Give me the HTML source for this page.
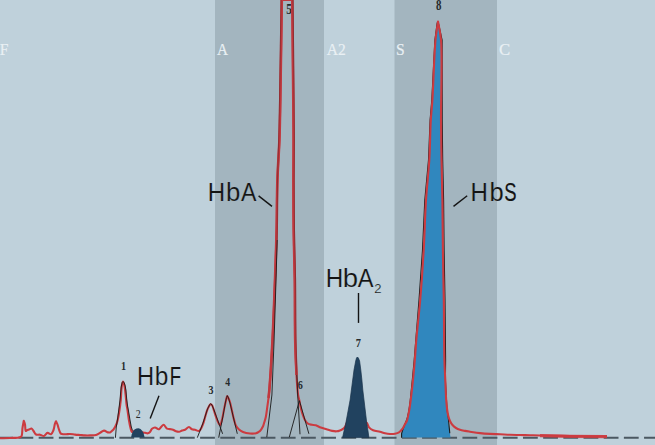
<!DOCTYPE html>
<html><head><meta charset="utf-8"><style>
html,body{margin:0;padding:0;width:655px;height:445px;overflow:hidden;background:#bfd1db;}
svg{display:block}
</style></head><body>
<svg width="655" height="445" viewBox="0 0 655 445">
<rect x="0" y="0" width="655" height="445" fill="#bfd1db"/>
<rect x="215" y="0" width="109" height="445" fill="#a3b5bf"/>
<rect x="394.5" y="0" width="102.5" height="445" fill="#a3b5bf"/>
<g font-family="Liberation Serif" font-size="17.3" fill="#e9f0f4" stroke="#e9f0f4" stroke-width="0.2">
<text transform="translate(-0.3,54.7) scale(0.9,1)">F</text>
<text transform="translate(217.1,54.7) scale(0.88,1)">A</text>
<text transform="translate(326.8,54.7) scale(0.9,1)">A2</text>
<text transform="translate(396.1,54.8) scale(0.9,1)">S</text>
<text transform="translate(499.1,54.7) scale(0.97,1)">C</text>
</g>
<line x1="-1.7" y1="437.7" x2="655" y2="437.7" stroke="#4b5862" stroke-width="2" stroke-dasharray="14.8 5.38"/>
<polygon points="401.8,437.4 401.8,433.5 402.5,431.0 403.5,428.0 405.3,424.0 407.3,420.5 408.8,414.0 409.9,408.0 411.0,400.0 413.3,380.0 415.1,360.0 416.6,340.0 420.5,300.0 424.0,250.0 426.3,200.0 429.6,160.0 431.1,120.0 432.7,100.0 435.7,40.0 438.0,21.5 440.8,40.0 440.7,120.0 441.2,160.0 442.1,200.0 442.6,250.0 443.5,300.0 444.1,360.0 444.9,380.0 445.8,400.0 446.8,410.0 448.0,420.0 449.5,430.0 450.5,437.4" fill="#3087be"/>
<polyline points="401.6,437.8 401.6,433.5 403.0,429.0 405.0,424.0 407.0,419.0 408.6,412.0 409.7,405.0 410.3,400.0 412.3,380.0 414.2,360.0 419.0,300.0 422.5,250.0 424.8,200.0 428.5,160.0 430.1,120.0 431.8,100.0 434.9,40.0 437.2,23.0 438.0,21.5" fill="none" stroke="#1a1a1a" stroke-width="1.1"/>
<polyline points="438.0,21.0 442.1,40.0 442.2,120.0 442.7,160.0 443.6,200.0 444.1,250.0 445.0,300.0 445.6,360.0 445.4,380.0 447.0,409.0 448.5,420.0 449.8,433.3" fill="none" stroke="#1a1a1a" stroke-width="1.1"/>
<g font-family="Liberation Serif" font-weight="bold" font-size="12.7" fill="#262a2c"><text transform="translate(120.96,370.1) scale(0.8,1)" font-size="12.7">1</text><text transform="translate(135.84,418) scale(0.8,1)" font-size="12.3" font-weight="normal">2</text><text transform="translate(208.55,393.6) scale(0.8,1)" font-size="12.5">3</text><text transform="translate(225.31,386) scale(0.8,1)" font-size="12.3">4</text><text transform="translate(286.37,13.5) scale(0.8,1)" font-size="14.5">5</text><text transform="translate(297.66,389) scale(0.8,1)" font-size="12.7">6</text><text transform="translate(355.77,346.5) scale(0.8,1)" font-size="13">7</text><text transform="translate(435.93,10.3) scale(0.8,1)" font-size="13.6">8</text></g>
<path d="M0.00,438.30 C3.33,438.20 6.67,438.18 10.00,438.00 C13.34,437.82 18.15,437.90 20.00,437.20 C20.83,436.89 21.19,436.71 21.60,436.00 C22.41,434.58 22.12,430.59 22.50,428.00 C22.86,425.53 23.37,423.20 23.80,420.80 C24.20,422.03 24.68,423.08 25.00,424.50 C25.41,426.35 25.13,430.69 25.80,431.00 C26.11,431.14 26.53,430.43 27.00,430.20 C27.57,429.92 28.30,429.76 29.00,429.50 C29.79,429.20 30.77,428.31 31.50,428.50 C32.29,428.71 32.81,430.09 33.50,431.00 C34.30,432.06 34.89,433.89 36.00,434.50 C37.07,435.09 38.68,434.46 40.00,434.70 C41.35,434.95 42.78,436.25 44.00,436.00 C45.29,435.73 46.26,433.13 47.50,432.90 C48.61,432.69 50.04,434.54 51.00,434.20 C52.10,433.81 52.85,431.61 53.50,430.00 C54.26,428.12 54.47,425.07 55.00,423.50 C55.32,422.55 55.67,422.03 56.00,421.30 C56.50,422.37 57.09,423.39 57.50,424.50 C57.92,425.62 58.07,426.73 58.50,428.00 C59.03,429.57 59.68,432.27 60.50,433.20 C60.95,433.71 61.35,433.82 62.00,434.00 C62.99,434.27 64.67,434.20 66.00,434.20 C67.33,434.20 68.59,433.95 70.00,434.00 C71.58,434.05 73.33,434.43 75.00,434.60 C76.67,434.77 78.33,434.87 80.00,435.00 C81.67,435.13 83.33,435.33 85.00,435.40 C86.67,435.47 88.26,435.46 90.00,435.40 C91.91,435.34 94.25,435.49 96.00,435.00 C97.52,434.57 98.67,433.63 100.00,432.90 C101.34,432.16 102.65,430.67 104.00,430.60 C105.32,430.53 106.87,432.16 108.00,432.40 C108.76,432.56 109.38,432.61 110.00,432.40 C110.66,432.17 111.22,431.48 111.80,431.00 C112.38,430.52 112.99,430.11 113.50,429.50 C114.08,428.81 114.52,427.88 115.00,427.00 C115.52,426.05 116.07,425.09 116.50,424.00 C116.98,422.78 117.35,421.42 117.70,420.00 C118.09,418.43 118.40,416.67 118.70,415.00 C119.00,413.34 119.25,411.67 119.50,410.00 C119.75,408.33 119.98,406.67 120.20,405.00 C120.42,403.33 120.65,401.67 120.80,400.00 C120.95,398.34 121.00,396.67 121.10,395.00 C121.20,393.33 121.26,391.62 121.40,390.00 C121.53,388.46 121.68,386.78 121.90,385.50 C122.07,384.54 122.27,383.71 122.50,383.00 C122.68,382.46 122.90,382.07 123.10,381.60 C123.30,382.07 123.51,382.46 123.70,383.00 C123.95,383.71 124.19,384.54 124.40,385.50 C124.68,386.77 124.90,388.46 125.10,390.00 C125.31,391.62 125.43,393.33 125.60,395.00 C125.77,396.67 125.93,398.33 126.10,400.00 C126.27,401.67 126.37,403.34 126.60,405.00 C126.83,406.67 127.19,408.04 127.50,410.00 C127.94,412.76 128.37,416.86 128.90,420.00 C129.38,422.82 129.88,425.81 130.50,428.00 C130.95,429.58 131.26,431.71 132.00,432.00 C132.54,432.21 133.22,431.13 134.00,431.00 C134.98,430.84 136.33,431.33 137.50,431.50 C138.67,431.67 139.80,431.79 141.00,432.00 C142.29,432.22 143.76,432.57 145.00,432.80 C146.07,433.00 147.13,433.48 148.00,433.30 C148.77,433.14 149.39,432.62 150.00,432.00 C150.76,431.22 151.12,429.56 152.00,428.80 C152.82,428.10 153.97,427.47 155.00,427.50 C156.13,427.54 157.58,429.33 158.50,429.30 C159.11,429.28 159.43,428.85 160.00,428.40 C160.97,427.63 162.34,424.78 163.50,424.80 C164.68,424.82 165.76,427.93 167.00,428.60 C167.95,429.12 169.00,428.92 170.00,429.10 C171.00,429.28 172.03,429.35 173.00,429.70 C174.03,430.07 174.97,430.95 176.00,431.30 C176.97,431.63 178.01,431.91 179.00,431.80 C180.02,431.69 180.99,430.95 182.00,430.60 C182.99,430.25 183.97,430.19 185.00,429.70 C186.28,429.09 187.77,426.96 189.00,427.00 C190.08,427.03 190.94,428.84 192.00,429.30 C192.95,429.71 193.94,429.55 195.00,429.80 C196.25,430.09 197.96,431.30 199.00,431.00 C199.88,430.74 200.40,429.65 201.00,428.70 C201.77,427.49 202.38,425.87 203.00,424.20 C203.74,422.21 204.34,419.74 205.00,417.50 C205.67,415.24 206.26,412.71 207.00,410.70 C207.62,409.02 208.31,407.37 209.00,406.20 C209.49,405.37 209.95,404.31 210.50,404.20 C210.96,404.11 211.55,404.55 212.00,405.10 C212.83,406.12 213.35,408.78 214.00,410.70 C214.68,412.71 215.30,414.94 216.00,416.90 C216.64,418.69 217.26,420.51 218.00,422.00 C218.62,423.25 219.39,425.36 220.00,425.30 C220.76,425.22 221.40,421.87 222.00,419.70 C222.79,416.85 223.31,412.87 224.00,409.60 C224.65,406.51 225.37,403.09 226.00,400.60 C226.45,398.80 226.72,396.04 227.30,396.00 C227.99,395.96 229.25,399.99 230.00,402.30 C230.86,404.93 231.33,408.11 232.00,411.00 C232.66,413.88 233.27,416.98 234.00,419.60 C234.62,421.85 235.06,424.07 236.00,425.80 C236.80,427.28 237.83,428.47 239.00,429.50 C240.16,430.53 241.42,431.36 243.00,432.00 C244.95,432.79 247.74,433.32 250.00,433.50 C252.07,433.67 254.48,433.57 256.00,433.20 C257.01,432.95 257.70,432.50 258.40,432.10 C259.00,431.76 259.45,431.57 260.00,431.00 C260.92,430.06 262.21,427.91 262.90,426.50 C263.44,425.38 263.61,424.53 264.00,423.30 C264.52,421.66 265.20,419.77 265.70,417.50 C266.39,414.37 266.91,409.67 267.40,406.20 C267.82,403.25 268.16,400.87 268.50,398.00 C268.87,394.83 269.13,392.58 269.50,388.00 C270.31,377.98 271.62,356.90 272.50,340.00 C273.48,321.12 274.30,299.09 275.00,280.00 C275.64,262.58 276.20,246.67 276.60,230.00 C277.00,213.33 276.88,195.73 277.40,180.00 C277.86,165.92 278.92,153.34 279.40,140.00 C279.88,126.67 279.99,116.35 280.30,100.00 C280.78,74.10 281.30,33.07 281.80,-0.40 C285.30,-0.40 288.80,-0.40 292.30,-0.40 C292.63,33.07 293.07,74.10 293.30,100.00 C293.44,116.35 293.58,126.67 293.60,140.00 C293.62,153.33 293.39,165.92 293.40,180.00 C293.41,195.74 293.47,213.33 293.70,230.00 C293.93,246.67 294.55,262.57 294.80,280.00 C295.07,299.09 294.82,322.68 295.20,340.00 C295.49,353.23 295.91,364.96 296.50,375.00 C296.94,382.60 297.39,390.40 298.10,395.00 C298.48,397.46 298.97,398.73 299.40,400.60 C300.00,403.60 300.54,406.97 301.20,409.60 C301.73,411.70 302.24,413.39 302.90,415.20 C303.54,416.96 304.20,418.83 305.10,420.30 C305.90,421.61 306.74,422.95 307.90,423.70 C309.02,424.43 310.57,424.53 311.90,424.80 C313.20,425.06 314.45,424.91 315.80,425.30 C317.40,425.76 319.05,426.94 320.80,427.60 C322.61,428.28 324.61,428.75 326.50,429.30 C328.37,429.85 330.32,430.57 332.10,430.90 C333.67,431.19 335.21,431.42 336.60,431.30 C337.82,431.20 338.93,430.82 340.00,430.40 C341.06,429.98 342.14,429.44 343.00,428.80 C343.78,428.22 344.44,427.61 345.00,426.80 C345.64,425.88 345.75,425.09 346.50,423.50 C348.50,419.22 354.57,399.82 357.80,400.00 C360.85,400.17 363.57,419.28 365.50,422.00 C366.05,422.78 366.53,422.61 367.00,423.20 C367.73,424.11 368.03,426.14 369.00,427.30 C370.03,428.53 371.47,429.56 373.10,430.30 C375.03,431.17 377.89,431.26 380.00,431.80 C381.81,432.27 383.32,432.93 385.00,433.30 C386.65,433.66 388.33,433.93 390.00,434.00 C391.66,434.07 393.44,433.99 395.00,433.70 C396.43,433.43 397.95,433.03 399.00,432.40 C399.85,431.89 400.36,431.20 401.00,430.50 C401.69,429.74 402.38,428.96 403.00,428.00 C403.73,426.88 404.32,425.37 405.00,424.10 C405.66,422.87 406.45,421.92 407.00,420.50 C407.70,418.69 408.06,416.13 408.50,414.00 C408.92,411.96 409.26,410.15 409.60,408.00 C410.00,405.53 410.29,403.27 410.70,400.00 C411.35,394.84 412.32,386.67 413.00,380.00 C413.68,373.34 414.25,366.67 414.80,360.00 C415.35,353.34 415.63,347.81 416.30,340.00 C417.25,328.95 419.02,314.08 420.20,300.00 C421.52,284.27 422.73,266.67 423.70,250.00 C424.67,233.34 424.99,215.73 426.00,200.00 C426.90,185.91 428.50,173.34 429.30,160.00 C430.10,146.68 430.15,131.04 430.80,120.00 C431.26,112.18 431.84,108.46 432.40,100.00 C433.36,85.36 434.17,54.26 435.50,40.00 C436.24,32.05 437.17,27.67 438.00,21.50 C439.00,27.67 440.33,31.63 441.00,40.00 C442.39,57.28 440.86,97.91 441.00,120.00 C441.10,135.62 441.27,146.67 441.50,160.00 C441.73,173.33 442.17,185.92 442.40,200.00 C442.66,215.74 442.67,233.33 442.90,250.00 C443.13,266.67 443.56,282.57 443.80,300.00 C444.07,319.09 444.00,345.36 444.40,360.00 C444.63,368.46 445.00,373.33 445.30,380.00 C445.60,386.67 445.80,394.48 446.20,400.00 C446.48,403.91 446.79,407.10 447.20,410.00 C447.52,412.26 447.81,414.11 448.30,416.00 C448.76,417.76 449.27,419.46 450.00,421.00 C450.69,422.45 451.49,423.83 452.50,425.00 C453.50,426.16 454.73,427.19 456.00,428.00 C457.24,428.79 458.57,429.33 460.00,429.80 C461.55,430.31 463.33,430.58 465.00,430.90 C466.66,431.22 468.05,431.41 470.00,431.70 C472.76,432.11 476.66,432.73 480.00,433.10 C483.33,433.47 486.66,433.70 490.00,433.90 C493.33,434.10 496.67,434.15 500.00,434.30 C503.33,434.45 506.67,434.68 510.00,434.80 C513.33,434.92 516.67,434.93 520.00,435.00 C523.33,435.07 526.67,435.12 530.00,435.20 C533.33,435.28 535.77,435.40 540.00,435.50 C547.32,435.67 559.48,435.86 570.00,436.00 C581.69,436.16 594.67,436.27 607.00,436.40" fill="none" stroke="#cc3b40" stroke-width="2.1" stroke-linejoin="round"/>
<path d="M268.50,398.00 C268.83,394.67 269.13,392.58 269.50,388.00 C270.31,377.98 271.62,356.90 272.50,340.00 C273.48,321.12 274.30,299.09 275.00,280.00 C275.64,262.58 276.20,246.67 276.60,230.00 C277.00,213.33 276.88,195.73 277.40,180.00 C277.86,165.92 278.92,153.34 279.40,140.00 C279.88,126.67 279.99,116.35 280.30,100.00 C280.78,74.10 281.30,33.07 281.80,-0.40 C285.30,-0.40 288.80,-0.40 292.30,-0.40 C292.63,33.07 293.07,74.10 293.30,100.00 C293.44,116.35 293.58,126.67 293.60,140.00 C293.62,153.33 293.39,165.92 293.40,180.00 C293.41,195.74 293.47,213.33 293.70,230.00 C293.93,246.67 294.55,262.57 294.80,280.00 C295.07,299.09 294.82,322.68 295.20,340.00 C295.49,353.23 296.07,363.33 296.50,375.00" fill="none" stroke="#c0383e" stroke-width="2.6" stroke-linejoin="round"/>
<polyline points="540,435.7 570,436.3 607,436.6" fill="none" stroke="#cc3b40" stroke-opacity="0.85" stroke-width="3.2"/>
<polygon points="342.6,437.6 344.0,431.0 345.6,424.3 347.7,413.0 350.1,400.0 351.4,390.0 352.7,380.0 354.0,370.0 355.7,361.0 356.5,358.0 357.4,357.0 358.4,358.0 359.6,361.0 360.8,370.0 361.9,380.0 362.8,390.0 364.0,400.0 365.2,410.0 366.9,424.3 368.0,431.0 368.9,437.6" fill="#21425f" stroke="#18324a" stroke-width="0.7"/>
<polygon points="131.1,437.6 131.7,434.5 132.8,431.5 134.5,429.4 136.5,428.4 138.5,428.3 140.5,429.0 142.2,430.8 143.6,433.2 144.6,437.6" fill="#21425f"/>
<polyline points="115.4,437.8 116.3,427.0 117.7,418.0 119.0,408.0 120.0,400.0 120.6,393.0 121.2,387.0 122.2,382.5 123.1,381.5" fill="none" stroke="#1a1a1a" stroke-opacity="0.9" stroke-width="1.0"/>
<polyline points="123.1,381.5 124.3,383.0 125.2,386.0 125.9,390.0 126.8,400.0 127.6,406.0 128.5,411.0 130.0,420.0 131.3,427.0 132.5,430.6" fill="none" stroke="#1a1a1a" stroke-opacity="0.9" stroke-width="1.0"/>
<polyline points="197.3,437.7 203.0,423.0 207.5,409.0 209.5,405.0 210.6,403.6" fill="none" stroke="#1a1a1a" stroke-opacity="0.9" stroke-width="1.0"/>
<polyline points="210.6,403.6 212.0,405.0 214.0,410.0 222.6,433.8" fill="none" stroke="#1a1a1a" stroke-opacity="0.9" stroke-width="1.0"/>
<polyline points="218.7,437.7 223.0,416.0 225.5,402.0 226.6,397.5 227.3,395.6" fill="none" stroke="#1a1a1a" stroke-opacity="0.9" stroke-width="1.0"/>
<polyline points="227.3,395.6 228.5,398.0 230.0,403.0 237.3,433.8" fill="none" stroke="#1a1a1a" stroke-opacity="0.9" stroke-width="1.0"/>
<polyline points="277.2,240.0 277.5,180.0 278.7,140.0 279.5,100.0 281.0,-1.0" fill="none" stroke="#3a1a1e" stroke-opacity="0.35" stroke-width="1.0"/>
<polyline points="293.1,-1.0 294.1,100.0 294.4,140.0 294.2,180.0 294.5,230.0 295.6,280.0 296.0,340.0 296.9,375.0" fill="none" stroke="#3a1a1e" stroke-opacity="0.35" stroke-width="1.0"/>
<polyline points="299.4,400.6 289.3,437.1" fill="none" stroke="#1a1a1a" stroke-opacity="0.9" stroke-width="1.0"/>
<polyline points="266.8,437.1 271.9,395.0 274.1,340.0 276.0,280.0 277.2,240.0" fill="none" stroke="#1a1a1a" stroke-opacity="0.9" stroke-width="1.0"/>
<polyline points="296.9,375.0 297.7,395.0 300.0,434.3" fill="none" stroke="#1a1a1a" stroke-opacity="0.9" stroke-width="1.0"/>
<polyline points="299.4,400.6 308.9,433.8" fill="none" stroke="#1a1a1a" stroke-opacity="0.9" stroke-width="1.0"/>
<g font-family="Liberation Sans" font-size="25.6" fill="#141414">
<text transform="translate(136.90,385.0) scale(0.926,1)" stroke="#bfd1db" stroke-width="0.2">H</text>
<text transform="translate(154.81,385.0) scale(0.955,1)" stroke="#bfd1db" stroke-width="0.2">b</text>
<text transform="translate(169.83,385.0) scale(0.718,1)" stroke="#141414" stroke-width="0.15">F</text>
<text transform="translate(207.77,201.0) scale(0.940,1)" stroke="#a3b5bf" stroke-width="0.2">H</text>
<text transform="translate(226.12,201.0) scale(1.007,1)" stroke="#a3b5bf" stroke-width="0.2">b</text>
<text transform="translate(240.88,201.0) scale(0.906,1)" stroke="#a3b5bf" stroke-width="0.2">A</text>
<text transform="translate(470.57,201.0) scale(0.940,1)" stroke="#a3b5bf" stroke-width="0.2">H</text>
<text transform="translate(489.44,201.0) scale(0.998,1)" stroke="#a3b5bf" stroke-width="0.2">b</text>
<text transform="translate(504.27,201.0) scale(0.721,1)" stroke="#141414" stroke-width="0.15">S</text>
<text transform="translate(325.76,286.9) scale(0.947,1)" stroke="#bfd1db" stroke-width="0.2">H</text>
<text transform="translate(342.81,286.9) scale(1.076,1)" stroke="#bfd1db" stroke-width="0.2">b</text>
<text transform="translate(357.78,286.9) scale(0.923,1)" stroke="#bfd1db" stroke-width="0.2">A</text>
<text transform="translate(374.15,293.0) scale(0.996,1)" font-size="13.1" stroke="#bfd1db" stroke-width="0.2">2</text>
</g>
<g stroke="#141414" stroke-width="1.4">
<line x1="258.6" y1="195.9" x2="272" y2="206.4"/>
<line x1="467.2" y1="195.8" x2="453.5" y2="206.4"/>
<line x1="159" y1="395.7" x2="150.2" y2="418.6"/>
<line x1="358.5" y1="293" x2="358.5" y2="322.9"/>
</g>
</svg>
</body></html>
